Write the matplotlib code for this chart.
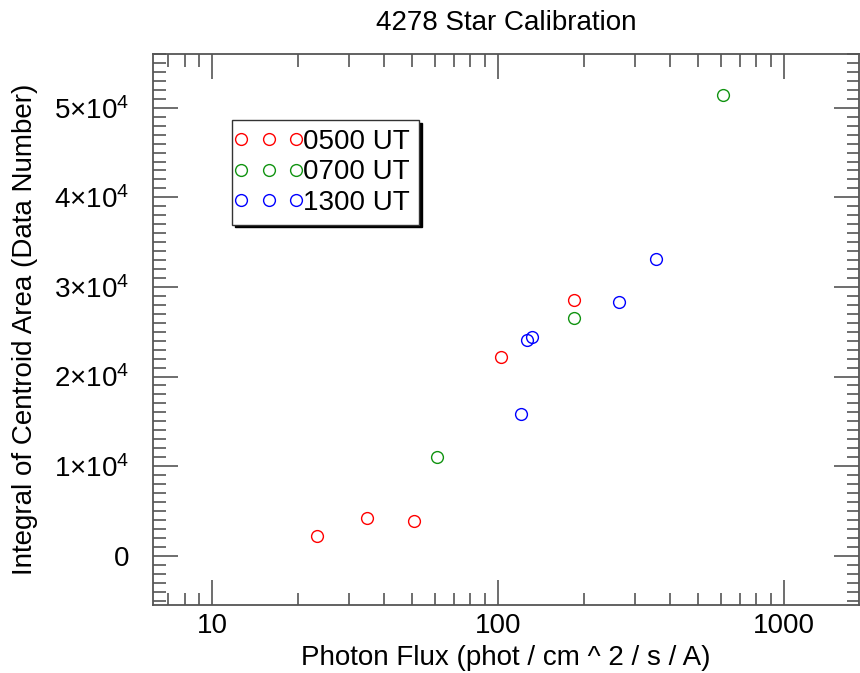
import matplotlib
matplotlib.use("Agg")
import matplotlib.pyplot as plt
from matplotlib.lines import Line2D
from matplotlib.legend_handler import HandlerLine2D
from matplotlib.ticker import MultipleLocator, FixedLocator, LogLocator, NullFormatter

plt.rcParams['font.family'] = ['Liberation Sans', 'DejaVu Sans']
plt.rcParams['mathtext.fontset'] = 'custom'
plt.rcParams['mathtext.rm'] = 'Liberation Sans'
plt.rcParams['mathtext.it'] = 'Liberation Sans'

title = "4278 Star Calibration"
xlabel = "Photon Flux (phot / cm ^ 2 / s / A)"
ylabel = "Integral of Centroid Area (Data Number)"

series_names = ["0500 UT", "0700 UT", "1300 UT"]
series_colors = ["#ff0000", "#119311", "#0000ff"]

x_0500 = [23.3, 34.9, 50.6, 102.7, 184.8]
y_0500 = [2230, 4240, 3830, 22130, 28570]

x_0700 = [61.0, 184.8, 612.0]
y_0700 = [11050, 26530, 51450]

x_1300 = [120.0, 126.3, 131.8, 265.6, 355.9]
y_1300 = [15810, 24070, 24440, 28270, 33110]

x_ticks = [10, 100, 1000]
x_ticklabels = ["10", "100", "1000"]
y_ticks = [0, 10000, 20000, 30000, 40000, 50000]
y_ticklabels = ["0", r"$1{\times}10^{4}$", r"$2{\times}10^{4}$", r"$3{\times}10^{4}$",
                r"$4{\times}10^{4}$", r"$5{\times}10^{4}$"]

W, H = 860, 673
fig = plt.figure(figsize=(W / 100, H / 100), dpi=100)
ax = fig.add_axes([153 / W, 1 - 605 / H, (859 - 153) / W, (605 - 54) / H])

fs = 20
for xs, ys, c, name in zip([x_0500, x_0700, x_1300], [y_0500, y_0700, y_1300],
                           series_colors, series_names):
    ax.plot(xs, ys, linestyle='none', marker='o', markersize=8.5, markerfacecolor='none',
            markeredgecolor=c, markeredgewidth=1.0, label=name)

ax.set_xscale('log')
ax.set_xlim(6.2, 1830)
ax.set_ylim(-5500, 56000)

ax.xaxis.set_major_locator(FixedLocator(x_ticks))
ax.set_xticklabels(x_ticklabels)
ax.xaxis.set_minor_locator(LogLocator(base=10, subs=range(2, 10)))
ax.xaxis.set_minor_formatter(NullFormatter())
ax.yaxis.set_major_locator(FixedLocator(y_ticks))
ax.set_yticklabels(y_ticklabels)
ax.yaxis.set_minor_locator(MultipleLocator(1000))

axis_color = '#555555'
for s in ax.spines.values():
    s.set_color(axis_color)
    s.set_linewidth(1.3)

ax.tick_params(which='both', direction='in', top=True, right=True, color=axis_color,
               width=1.2, labelsize=fs)
ax.tick_params(which='major', length=18)
ax.tick_params(which='minor', length=9)
ax.tick_params(axis='x', which='major', pad=6)
ax.tick_params(axis='y', which='major', pad=17)

ax.set_title(title, fontsize=20, pad=17)
ax.set_xlabel(xlabel, fontsize=fs, labelpad=4)
ax.set_ylabel(ylabel, fontsize=fs, labelpad=12)

leg = ax.legend(loc='upper left', bbox_to_anchor=(232 / W, 1 - 120 / H),
                bbox_transform=fig.transFigure, numpoints=3, handlelength=1.98,
                handletextpad=0.26, borderpad=0.33, labelspacing=0.15, borderaxespad=0,
                handler_map={Line2D: HandlerLine2D(marker_pad=0.0)},
                fancybox=False, shadow={'color': 'black', 'alpha': 1},
                frameon=True, fontsize=fs, framealpha=1)
leg.get_frame().set_edgecolor('#333333')
leg.get_frame().set_linewidth(1.0)

fig.savefig("out.png", dpi=100)
